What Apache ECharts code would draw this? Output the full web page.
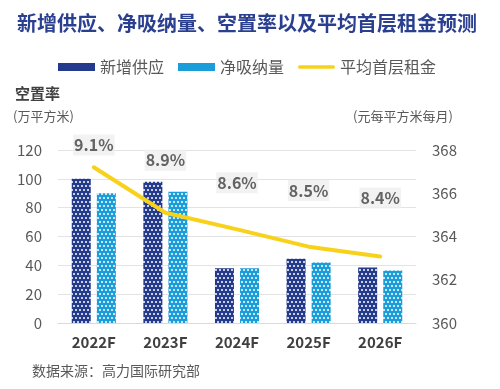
<!DOCTYPE html>
<html><head><meta charset="utf-8">
<script src="https://cdn.jsdelivr.net/npm/echarts@6/dist/echarts.min.js"></script>
<style>html,body{margin:0;padding:0;background:#fff}#c{width:500px;height:389px}</style>
</head><body><div id="c"></div>
<script>
var categories = ['2022F','2023F','2024F','2025F','2026F'];
var newSupply = [100, 98, 38, 44.5, 38.5];
var netAbsorption = [90, 91, 38, 42, 36.5];
var avgRent = [367.2, 365.1, 364.33, 363.53, 363.08];
var vacancyRate = [9.1, 8.9, 8.6, 8.5, 8.4];
var leftTicks = {min: 0, max: 120, interval: 20};
var rightTicks = {min: 360, max: 368, interval: 2};

var FONT = '"Noto Sans CJK SC", "Noto Sans", sans-serif';
function dotPattern(base) {
  var c = document.createElement('canvas');
  c.width = 8; c.height = 8;
  var g = c.getContext('2d');
  g.fillStyle = base; g.fillRect(0, 0, 8, 8);
  g.fillStyle = 'rgba(255,255,255,0.75)';
  g.fillRect(1, 1, 2, 2);
  g.fillRect(5, 1, 2, 2);
  g.fillRect(3, 5, 2, 2);
  g.fillRect(7, 5, 1, 2);
  g.fillRect(0, 5, 1, 2);
  return c;
}
var DARK = '#243a8c', LIGHT = '#1b9dd9', GOLD = '#f8d21a';

var chart = echarts.init(document.getElementById('c'), null, {renderer: 'canvas'});
chart.setOption({
  animation: false,
  textStyle: {fontFamily: FONT},
  title: {
    text: '新增供应、净吸纳量、空置率以及平均首层租金预测',
    left: 12, top: 8,
    textStyle: {fontSize: 20, fontWeight: 'bold', color: '#2a3f8f', fontFamily: FONT}
  },
  legend: {
    left: 53, top: 54, itemWidth: 37, itemHeight: 8, itemGap: 14,
    textStyle: {fontSize: 16, color: '#595959', fontFamily: FONT},
    data: [
      {name: '新增供应', icon: 'rect', itemStyle: {color: DARK}},
      {name: '净吸纳量', icon: 'rect', itemStyle: {color: LIGHT}},
      {name: '平均首层租金', icon: 'path://M2,0 L42,0 A2,2 0 0 1 42,4 L2,4 A2,2 0 0 1 2,0 Z', itemStyle: {color: GOLD}}
    ]
  },
  graphic: [
    {type: 'text', left: 15, top: 86, style: {text: '空置率', fontSize: 15, fontWeight: 'bold', fill: '#404040', fontFamily: FONT}},
    {type: 'text', left: 13, top: 110, style: {text: '(万平方米)', fontSize: 13, fill: '#595959', fontFamily: FONT}},
    {type: 'text', left: 353, top: 110, style: {text: '(元每平方米每月)', fontSize: 13, fill: '#595959', fontFamily: FONT}},
    {type: 'text', left: 32, top: 364, style: {text: '数据来源：高力国际研究部', fontSize: 14, fill: '#595959', fontFamily: FONT}}
  ],
  grid: {left: 58, right: 84, top: 150, bottom: 66},
  xAxis: {
    type: 'category', data: categories,
    axisLine: {lineStyle: {color: '#d9d9d9'}},
    axisTick: {show: false},
    axisLabel: {fontSize: 15, fontWeight: 'bold', color: '#404040', margin: 12, fontFamily: FONT}
  },
  yAxis: [
    {type: 'value', min: leftTicks.min, max: leftTicks.max, interval: leftTicks.interval,
     axisLabel: {fontSize: 15, color: '#595959', margin: 16, fontFamily: FONT},
     splitLine: {lineStyle: {color: '#e3e3e3'}}},
    {type: 'value', min: rightTicks.min, max: rightTicks.max, interval: rightTicks.interval,
     axisLabel: {fontSize: 15, color: '#595959', margin: 16, fontFamily: FONT},
     splitLine: {show: false}},
    {type: 'value', min: 6.749, max: 9.034, show: false, splitLine: {show: false}}
  ],
  series: [
    {name: '新增供应', type: 'bar', data: newSupply, barWidth: 19, barGap: '32%',
     itemStyle: {color: {image: dotPattern(DARK), repeat: 'repeat'}}},
    {name: '净吸纳量', type: 'bar', data: netAbsorption, barWidth: 19,
     itemStyle: {color: {image: dotPattern(LIGHT), repeat: 'repeat'}}},
    {name: '平均首层租金', type: 'line', yAxisIndex: 1, data: avgRent,
     showSymbol: false, symbol: 'none', color: GOLD,
     lineStyle: {width: 4, color: GOLD, cap: 'round', join: 'round'}},
    {name: '空置率', type: 'scatter', yAxisIndex: 2, data: vacancyRate,
     symbolSize: 0, silent: true, clip: false,
     label: {show: true, position: 'inside', formatter: function(p){return p.value.toFixed(1) + '%';},
       fontSize: 16, fontWeight: 'bold', color: '#404040', fontFamily: FONT,
       backgroundColor: '#efefef', padding: [5, 1, 0, 1]}}
  ]
});
</script></body></html>
